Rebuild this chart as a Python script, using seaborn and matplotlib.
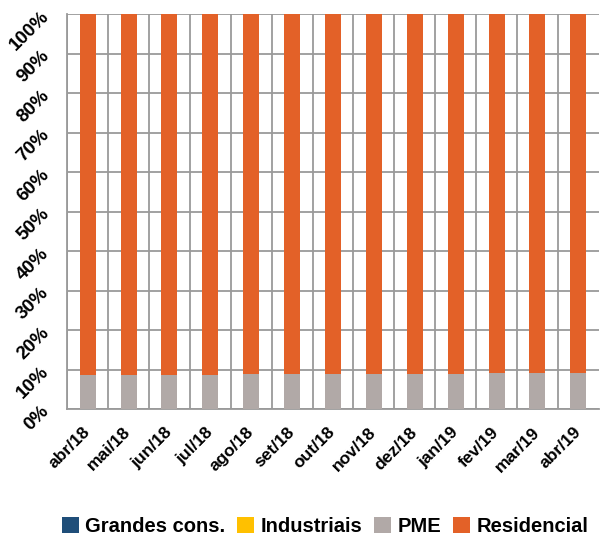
import matplotlib
matplotlib.use("Agg")
import matplotlib.pyplot as plt
from matplotlib.patches import Patch
import numpy as np
import pandas as pd
import seaborn as sns

months = ["abr/18", "mai/18", "jun/18", "jul/18", "ago/18", "set/18", "out/18",
          "nov/18", "dez/18", "jan/19", "fev/19", "mar/19", "abr/19"]
grandes = [0.05, 0.05, 0.05, 0.05, 0.05, 0.05, 0.05, 0.05, 0.05, 0.05, 0.05, 0.05, 0.05]
industriais = [0.05, 0.05, 0.05, 0.05, 0.05, 0.05, 0.05, 0.05, 0.05, 0.05, 0.05, 0.05, 0.05]
pme = [8.6, 8.6, 8.6, 8.6, 8.8, 8.8, 8.8, 8.8, 8.8, 8.8, 9.1, 9.1, 9.1]
residencial = [round(100 - g - i - p, 2) for g, i, p in zip(grandes, industriais, pme)]

series = ["Grandes cons.", "Industriais", "PME", "Residencial"]
colors = ["#1F4E79", "#FFC000", "#B1A9A7", "#E36128"]

df = pd.DataFrame({"mes": months, "Grandes cons.": grandes, "Industriais": industriais,
                   "PME": pme, "Residencial": residencial})
cum = df[series].cumsum(axis=1)

sns.set_theme(style="white")
plt.rcParams["font.family"] = ["Liberation Sans", "DejaVu Sans"]

fig = plt.figure(figsize=(6.0, 5.35), dpi=100)
ax = fig.add_axes([0.112, 0.2355, 0.886, 0.7383])

# stacked bars: draw cumulative totals from the top segment down
for name, col in reversed(list(zip(series, colors))):
    sns.barplot(x=df["mes"], y=cum[name], color=col, width=0.39,
                saturation=1, ax=ax, zorder=3, linewidth=0)

ax.set_xlim(-0.5, len(months) - 0.5)
ax.set_ylim(0, 100)
ax.set_yticks(np.arange(0, 101, 10))
ax.set_yticklabels([f"{v}%" for v in range(0, 101, 10)])
ax.set_xticks(np.arange(len(months)) - 0.5, minor=True)
ax.grid(axis="y", which="major", color="#9A9A9A", linewidth=1.3, zorder=0)
ax.grid(axis="x", which="minor", color="#9A9A9A", linewidth=1.3, zorder=0)
ax.set_xlabel("")
ax.set_ylabel("")

for s in ["top", "right"]:
    ax.spines[s].set_visible(False)
for s in ["left", "bottom"]:
    ax.spines[s].set_color("#9A9A9A")
    ax.spines[s].set_linewidth(1.3)

ax.tick_params(axis="both", which="both", length=0)
ax.tick_params(axis="x", pad=15)
ax.tick_params(axis="y", pad=15)
for lab in ax.get_xticklabels():
    lab.set_rotation(45)
    lab.set_ha("right")
    lab.set_va("center")
    lab.set_rotation_mode("anchor")
    lab.set_fontsize(12.5)
    lab.set_fontweight("bold")
    lab.set_color("black")
for lab in ax.get_yticklabels():
    lab.set_rotation(45)
    lab.set_ha("right")
    lab.set_va("center")
    lab.set_rotation_mode("anchor")
    lab.set_fontsize(13.5)
    lab.set_fontweight("bold")
    lab.set_color("black")

handles = [Patch(facecolor=c, edgecolor="none") for c in colors]
leg = fig.legend(handles, series, loc="lower center", bbox_to_anchor=(0.542, -0.035),
                 ncol=4, frameon=False, prop={"weight": "bold", "size": 14.5},
                 handlelength=0.85, handleheight=0.85, handletextpad=0.3, columnspacing=0.6)
for t in leg.get_texts():
    t.set_color("black")

fig.savefig("out.png", dpi=100)
